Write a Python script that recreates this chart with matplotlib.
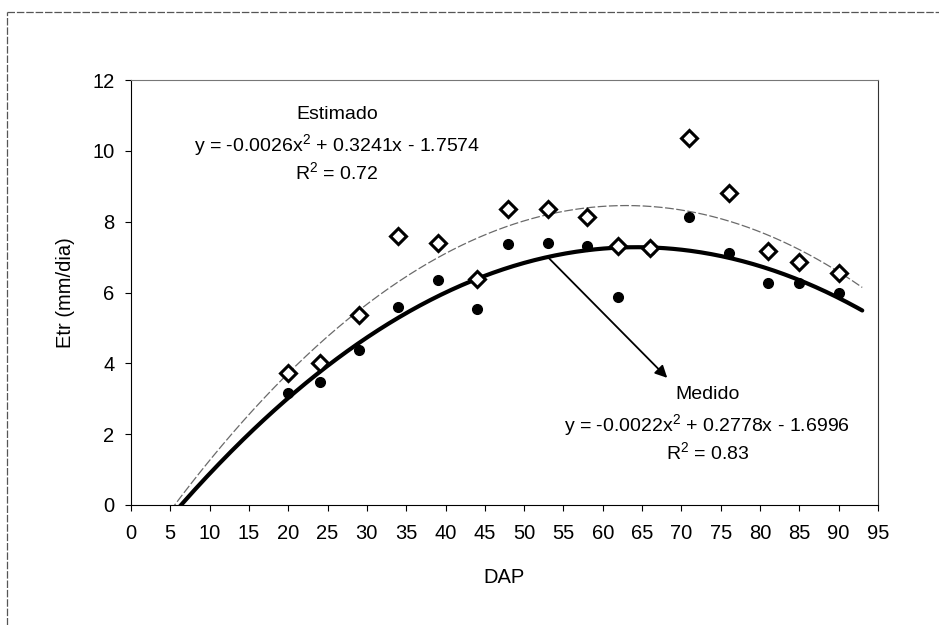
import numpy as np
import matplotlib
matplotlib.use("Agg")
import matplotlib.pyplot as plt
from matplotlib.lines import Line2D

plt.rcParams['font.family'] = ['Liberation Sans', 'DejaVu Sans']
plt.rcParams['mathtext.fontset'] = 'custom'
plt.rcParams['mathtext.rm'] = 'Liberation Sans'
plt.rcParams['mathtext.it'] = 'Liberation Sans:italic'
plt.rcParams['mathtext.default'] = 'rm'

# ---- data ----
dap = [20, 24, 29, 34, 39, 44, 48, 53, 58, 62, 66, 71, 76, 81, 85, 90]
estimado = [3.72, 4.02, 5.37, 7.60, 7.41, 6.38, 8.35, 8.37, 8.14, 7.30, 7.25, 10.35, 8.80, 7.18, 6.87, 6.56]
medido = [3.15, 3.47, 4.38, 5.58, 6.36, 5.53, 7.38, 7.39, 7.30, 5.86, 7.20, 8.14, 7.11, 6.26, 6.28, 6.00]

eq_estimado = ['Estimado', 'y = -0.0026x$^{2}$ + 0.3241x - 1.7574', 'R$^{2}$ = 0.72']
eq_medido = ['Medido', 'y = -0.0022x$^{2}$ + 0.2778x - 1.6996', 'R$^{2}$ = 0.83']
curve_range = [5.0, 93.0]

x_ticks = list(range(0, 100, 5))
y_ticks = list(range(0, 14, 2))

fig = plt.figure(figsize=(9.39, 6.25), dpi=100)
ax = fig.add_axes([0.1395, 0.192, 0.7955, 0.68])

# second-order polynomial trendlines fitted to each series
xs = np.linspace(curve_range[0], curve_range[1], 400)
fit_e = np.polyfit(dap, estimado, 2)
fit_m = np.polyfit(dap, medido, 2)
ax.plot(xs, np.polyval(fit_e, xs), color='#6a6a6a', lw=0.9,
        linestyle=(0, (7, 2)), zorder=2)
ax.plot(xs, np.polyval(fit_m, xs), color='black', lw=3.0,
        solid_capstyle='round', zorder=3)

ax.plot(dap, medido, linestyle='none', marker='o', ms=7, color='black', zorder=4)
ax.plot(dap, estimado, linestyle='none', marker='D', ms=8.5, mfc='white',
        mec='black', mew=2.2, zorder=5)

ax.set_xlim(0, 95)
ax.set_ylim(0, 12)
ax.set_xticks(x_ticks)
ax.set_yticks(y_ticks)
ax.tick_params(direction='out', length=4, width=0.8, labelsize=14.5, colors='black')
ax.tick_params(axis='x', pad=10)
ax.tick_params(axis='y', pad=8)
ax.set_xlabel('DAP', fontsize=14.5, labelpad=18)
ax.set_ylabel('Etr (mm/dia)', fontsize=14.5, labelpad=12)
for s in ax.spines.values():
    s.set_linewidth(0.8)
    s.set_color('black')
ax.spines['top'].set_color('#777777')
ax.spines['right'].set_color('#333333')

fs = 14
for txt, yy in zip(eq_estimado, [11.02, 10.17, 9.41]):
    ax.text(26.2, yy, txt, ha='center', va='center', fontsize=fs)
for txt, yy in zip(eq_medido, [3.11, 2.26, 1.50]):
    ax.text(73.3, yy, txt, ha='center', va='center', fontsize=fs)

ax.annotate('', xy=(68.2, 3.59), xytext=(53.0, np.polyval(fit_m, 53.0)),
            arrowprops=dict(arrowstyle='-|>', color='black', lw=1.3,
                            mutation_scale=18, shrinkA=0, shrinkB=0), zorder=6)

# outer frame (left and top edges visible)
W, H = 939, 625
fig.add_artist(Line2D([7 / W, 7 / W], [0, 1 - 12 / H], transform=fig.transFigure,
                      color='#555555', lw=0.9, linestyle=(0, (6, 1.5))))
fig.add_artist(Line2D([7 / W, 1], [1 - 12 / H, 1 - 12 / H], transform=fig.transFigure,
                      color='#555555', lw=0.9, linestyle=(0, (6, 1.5))))

fig.savefig('out.png', dpi=100)
